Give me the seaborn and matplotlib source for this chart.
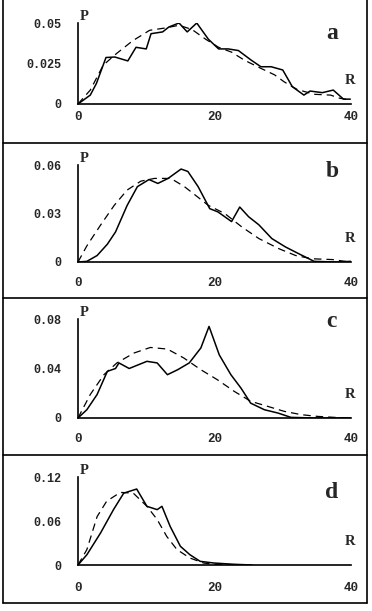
import numpy as np
import pandas as pd
import matplotlib
matplotlib.use("Agg")
import matplotlib.pyplot as plt
from matplotlib.lines import Line2D
import seaborn as sns

# =========================
# DATA
# =========================

# panel a
a_solid_r = [0, 1.8, 2.7, 4.1, 5.4, 7.3, 8.5, 10.0, 10.7, 12.4, 13.3, 14.8, 16.0, 17.4,
             19.1, 20.6, 22.0, 23.5, 25.4, 26.8, 28.3, 30.0, 31.4, 33.1, 34.0, 35.8,
             37.4, 38.9, 39.9]
a_solid_p = [0, 0.0055, 0.0127, 0.0287, 0.029, 0.0266, 0.035, 0.034, 0.0434, 0.0445,
             0.0475, 0.050, 0.0445, 0.050, 0.040, 0.034, 0.034, 0.033, 0.027, 0.023,
             0.023, 0.021, 0.0107, 0.0055, 0.008, 0.007, 0.0086, 0.003, 0.003]
a_dash_r = [0, 1.8, 3.7, 5.6, 8.0, 10.5, 12.9, 14.8, 16.7, 18.7, 20.6, 22.5, 24.4,
            26.8, 28.8, 30.2, 32.1, 34.6, 37.0, 38.4, 39.9]
a_dash_p = [0, 0.0086, 0.024, 0.031, 0.039, 0.0455, 0.047, 0.0486, 0.046, 0.040,
            0.035, 0.032, 0.027, 0.022, 0.018, 0.0137, 0.009, 0.006, 0.0055, 0.0035,
            0.0025]

# panel b
b_solid_r = [0, 1.3, 2.8, 4.3, 5.5, 7.2, 8.7, 10.4, 11.7, 13.2, 15.1, 16.1, 17.6,
             19.3, 20.5, 22.5, 23.7, 25.0, 26.5, 28.4, 30.4, 32.4, 34.6, 37.8, 40.0]
b_solid_p = [0, 0.0004, 0.004, 0.011, 0.0186, 0.035, 0.0466, 0.051, 0.0486, 0.0517,
             0.0575, 0.056, 0.0466, 0.033, 0.031, 0.025, 0.034, 0.028, 0.023, 0.0145,
             0.0093, 0.005, 0.0004, 0, 0.0004]
b_dash_r = [0, 1.3, 3.3, 5.3, 7.2, 9.2, 11.2, 13.6, 15.6, 17.6, 19.1, 21.5, 24.0,
            26.5, 29.4, 31.9, 34.3, 37.3, 39.8]
b_dash_p = [0, 0.010, 0.0228, 0.035, 0.0445, 0.050, 0.0517, 0.0517, 0.0466, 0.040,
            0.035, 0.030, 0.0217, 0.0145, 0.0083, 0.004, 0.002, 0.0015, 0]

# panel c
c_solid_r = [0, 1.3, 2.8, 4.3, 5.5, 6.0, 7.5, 10.1, 11.6, 13.1, 14.6, 16.3, 18.0,
             19.2, 20.7, 22.4, 23.9, 25.3, 27.3, 29.3, 31.2, 34.7, 37.5, 40.0]
c_solid_p = [0, 0.0067, 0.019, 0.0377, 0.040, 0.0445, 0.040, 0.0458, 0.0445, 0.035,
             0.039, 0.0445, 0.0566, 0.074, 0.051, 0.035, 0.024, 0.012, 0.0067, 0.004,
             0.0005, 0, 0, 0]
c_dash_r = [0, 1.8, 3.8, 5.7, 8.2, 10.6, 13.1, 15.5, 18.0, 20.4, 22.9, 25.3, 27.8,
            30.2, 32.7, 35.1, 37.6, 40.0]
c_dash_p = [0, 0.019, 0.035, 0.0445, 0.0525, 0.057, 0.0557, 0.0485, 0.039, 0.031,
            0.0215, 0.0135, 0.0094, 0.0054, 0.0027, 0.0013, 0.0005, 0]

# panel d
d_solid_r = [0, 1.3, 3.3, 5.2, 6.7, 8.6, 10.1, 11.6, 12.3, 13.5, 15.0, 16.4, 17.9,
             19.9, 22.8, 25.5]
d_solid_p = [0, 0.014, 0.0436, 0.0755, 0.098, 0.1036, 0.080, 0.0755, 0.080, 0.0527,
             0.0255, 0.014, 0.005, 0.0027, 0.001, 0]
d_dash_r = [0, 1.3, 2.8, 4.2, 6.2, 8.1, 10.1, 11.6, 13.0, 14.5, 16.4, 18.4, 20.3, 22.8]
d_dash_p = [0, 0.021, 0.066, 0.087, 0.099, 0.098, 0.080, 0.062, 0.039, 0.021, 0.0095,
            0.0027, 0.0005, 0]

panel_letters = ["a", "b", "c", "d"]
y_ticks = [[0, 0.025, 0.05], [0, 0.03, 0.06], [0, 0.04, 0.08], [0, 0.06, 0.12]]
y_ticklabels = [["0", "0.025", "0.05"], ["0", "0.03", "0.06"],
                ["0", "0.04", "0.08"], ["0", "0.06", "0.12"]]
x_ticks = [0, 20, 40]

solid = [(a_solid_r, a_solid_p), (b_solid_r, b_solid_p),
         (c_solid_r, c_solid_p), (d_solid_r, d_solid_p)]
dashed = [(a_dash_r, a_dash_p), (b_dash_r, b_dash_p),
          (c_dash_r, c_dash_p), (d_dash_r, d_dash_p)]

# =========================
# LAYOUT
# =========================

sns.set_style("white")
plt.rcParams["font.family"] = ["DejaVu Sans"]

W, H = 372, 611
fig = plt.figure(figsize=(W / 100, H / 100), dpi=100)

# (y of origin, y of top) in pixels for each panel
panel_px = [(104, 23), (262, 165), (418, 319), (565, 477)]
x_left, x_right = 78, 351
letter_y = [0.876, 0.93, 0.97, 0.82]
x_pad = [5, 11, 11, 12]

mono = "Liberation Mono"
serif = "Liberation Serif"

for i in range(4):
    y0, y1 = panel_px[i]
    ax = fig.add_axes([x_left / W, (H - y0) / H, (x_right - x_left) / W, (y0 - y1) / H])

    sr, sp = solid[i]
    dr, dp = dashed[i]
    sdf = pd.DataFrame({"R": sr, "P": sp})
    ddf = pd.DataFrame({"R": dr, "P": dp})

    sns.lineplot(data=sdf, x="R", y="P", ax=ax, color="black", linewidth=1.1,
                 sort=False, estimator=None)
    sns.lineplot(data=ddf, x="R", y="P", ax=ax, color="black", linewidth=0.9,
                 sort=False, estimator=None, dashes=False, linestyle=(0, (6, 4)))

    ax.set_xlim(0, 40)
    ax.set_ylim(0, y_ticks[i][-1])
    ax.set_xlabel("")
    ax.set_ylabel("")

    for s in ["top", "right"]:
        ax.spines[s].set_visible(False)
    for s in ["left", "bottom"]:
        ax.spines[s].set_color("black")
        ax.spines[s].set_linewidth(1.2)

    ax.set_yticks(y_ticks[i])
    ax.set_yticklabels(y_ticklabels[i], fontfamily=mono, fontweight="bold", fontsize=8.5)
    ax.set_xticks(x_ticks)
    ax.set_xticklabels([str(t) for t in x_ticks], fontfamily=mono,
                       fontweight="bold", fontsize=9)
    ax.set_xticks([0, 40], minor=True)
    ax.tick_params(axis="y", which="major", direction="out", length=4, width=1,
                   color="black", pad=8)
    ax.tick_params(axis="x", which="major", length=0, pad=x_pad[i])
    ax.tick_params(axis="x", which="minor", direction="out", length=4, width=1,
                   color="black")

    ax.text(0.008, 1.0, "P", transform=ax.transAxes, ha="left", va="bottom",
            fontfamily=serif, fontweight="bold", fontsize=10.5)
    ax.annotate("R", xy=(1, 0), xycoords="axes fraction", xytext=(-1, 12),
                textcoords="offset points", ha="center", va="bottom",
                fontfamily=serif, fontweight="bold", fontsize=10.5)
    ax.text(0.93, letter_y[i], panel_letters[i], transform=ax.transAxes,
            ha="center", va="center", fontfamily=serif, fontweight="bold",
            fontsize=17)

# =========================
# PANEL FRAMES
# =========================

bx0, bx1 = 3 / W, 367 / W
frame_kw = dict(color="black", linewidth=1.2, transform=fig.transFigure)
fig.add_artist(Line2D([bx0, bx0], [1, (H - 603) / H], **frame_kw))
fig.add_artist(Line2D([bx1, bx1], [1, (H - 603) / H], **frame_kw))
for yy in [143, 298, 455, 603]:
    fig.add_artist(Line2D([bx0, bx1], [(H - yy) / H] * 2, **frame_kw))

fig.savefig("out.png", dpi=100)
plt.close(fig)
